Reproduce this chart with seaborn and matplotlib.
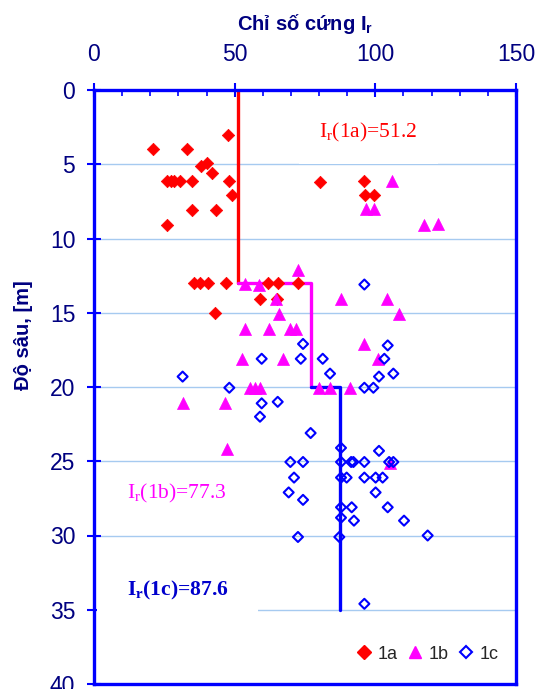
import numpy as np
import pandas as pd
import matplotlib
matplotlib.use("Agg")
import matplotlib.pyplot as plt
from matplotlib.lines import Line2D
import seaborn as sns

# Stiffness index I_r measured at depth, per soil layer
ir_1a = [47.5, 21, 33, 38, 40, 42, 26, 27.5, 28.5, 30.5, 35, 48, 49, 35, 43.5, 26,
         80.5, 96, 96.5, 99.5,
         35.5, 37.5, 40.5, 47, 62, 65.5, 72.5, 59, 65, 43]
depth_1a = [3.0, 4.0, 4.0, 5.1, 4.9, 5.6, 6.1, 6.1, 6.1, 6.1, 6.1, 6.1, 7.1, 8.1, 8.1, 9.1,
            6.2, 6.1, 7.1, 7.1,
            13.0, 13.0, 13.0, 13.0, 13.0, 13.0, 13.0, 14.1, 14.1, 15.05]

ir_1b = [105.8, 96.7, 99.5, 117.3, 122.4,
         72.4, 53.8, 58.8, 64.8, 65.9,
         53.8, 62.2, 69.5, 71.8,
         52.5, 67.3,
         55.5, 57.2, 59, 31.5, 46.6, 47.2,
         87.8, 104, 108.3, 96.1, 101.1,
         80.1, 83.9, 91, 105.2]
depth_1b = [6.1, 8.0, 8.0, 9.1, 9.0,
            12.1, 13.05, 13.1, 14.1, 15.1,
            16.1, 16.1, 16.1, 16.1,
            18.1, 18.1,
            20.05, 20.05, 20.05, 21.1, 21.1, 24.15,
            14.1, 14.1, 15.1, 17.1, 18.1,
            20.05, 20.05, 20.05, 25.1]

ir_1c = [96.1, 74.3, 104.4, 59.6, 73.5, 81.3, 103.2, 31.5, 83.9, 106.4, 101.3,
         48.1, 96.1, 99.3, 59.6, 65.3, 59, 77,
         87.8, 101.3,
         69.8, 74.3, 87.8, 91.4, 92.2, 96.1, 104.9, 106.4,
         71.1, 87.8, 89.8, 96.1, 100.1, 102.6,
         69.2, 100.1, 74.3,
         87.8, 91.6, 104.4, 87.8, 92.4, 110.2,
         72.5, 87.2, 118.6, 96.1]
depth_1c = [13.1, 17.1, 17.2, 18.1, 18.1, 18.1, 18.1, 19.3, 19.1, 19.1, 19.3,
            20.05, 20.05, 20.05, 21.1, 21.0, 22.0, 23.1,
            24.1, 24.3,
            25.05, 25.05, 25.05, 25.05, 25.05, 25.05, 25.05, 25.05,
            26.1, 26.1, 26.1, 26.1, 26.1, 26.1,
            27.1, 27.1, 27.6,
            28.1, 28.1, 28.1, 28.8, 29.0, 29.0,
            30.1, 30.1, 30.0, 34.6]

# Layer names, mean I_r and depth range of each layer
layers = ["1a", "1b", "1c"]
mean_ir = [51.2, 77.3, 87.6]
layer_top = [0, 13, 20]
layer_bottom = [13, 20, 35]

colors = ["#FF0000", "#FF00FF", "#0000FF"]
navy = "#000080"

sns.set_theme(style="white")
plt.rcParams["font.family"] = ["Liberation Sans", "DejaVu Sans"]
plt.rcParams["mathtext.default"] = "regular"

fig = plt.figure(figsize=(5.42, 6.89), dpi=100)
ax = fig.add_axes([94 / 542, 5 / 689, 422 / 542, 594 / 689])

# Step profile of mean I_r per layer
for i, name in enumerate(layers):
    prev = mean_ir[i - 1] if i > 0 else mean_ir[i]
    xs = [prev, mean_ir[i], mean_ir[i]]
    ys = [layer_top[i], layer_top[i], layer_bottom[i]]
    sns.lineplot(x=xs, y=ys, sort=False, estimator=None, color=colors[i],
                 linewidth=2.4, ax=ax, legend=False, zorder=2)

# Measured points
sns.scatterplot(x=ir_1a, y=depth_1a, marker="D", s=40, color=colors[0],
                edgecolor=colors[0], linewidth=0.5, ax=ax, zorder=4)
sns.scatterplot(x=ir_1b, y=depth_1b, marker="^", s=75, color=colors[1],
                edgecolor=colors[1], linewidth=0.5, ax=ax, zorder=5)
sns.scatterplot(x=ir_1c, y=depth_1c, marker="D", s=26, facecolors="none",
                edgecolor=colors[2], linewidth=1.5, ax=ax, zorder=6)

ax.set_xlim(0, 150)
ax.set_ylim(40, 0)
ax.xaxis.tick_top()
ax.xaxis.set_label_position("top")
ax.set_xticks([0, 50, 100, 150])
ax.set_xticks(np.arange(0, 151, 10), minor=True)
ax.set_yticks(np.arange(0, 41, 5))

ax.tick_params(axis="x", which="major", direction="inout", length=10, width=1.5,
               color="#0000FF", labelsize=16.5, labelcolor=navy, pad=12,
               top=True, bottom=False)
ax.tick_params(axis="x", which="minor", direction="in", length=4, width=1.2,
               color="#0000FF", top=True, bottom=False)
ax.tick_params(axis="y", which="major", direction="inout", length=10, width=1.5,
               color="#0000FF", labelsize=16.5, labelcolor=navy, pad=8.5, left=True)

for sp in ax.spines.values():
    sp.set_color("#0000FF")
    sp.set_linewidth(2.4)

ax.yaxis.grid(True, color="#A6CAF0", linewidth=1.0)
ax.xaxis.grid(False)

ax.set_xlabel("Chỉ số cứng I$_r$", fontsize=14.5, fontweight="bold", color=navy)
ax.set_ylabel("Độ sâu, [m]", fontsize=14.5, fontweight="bold", color=navy)
ax.xaxis.set_label_coords(0.5, 1.101)
ax.yaxis.set_label_coords(-0.145, 0.588)

# Layer mean labels
ax.text(97.4, 2.85, f"I$_r$(1a)={mean_ir[0]}", color="#FF0000", fontsize=15.5,
        family="Liberation Serif", ha="center", va="center", zorder=3,
        bbox=dict(boxstyle="square,pad=0.95", fc="white", ec="none"))
ax.text(29.5, 27.15, f"I$_r$(1b)={mean_ir[1]}", color="#FF00FF", fontsize=15.5,
        family="Liberation Serif", ha="center", va="center", zorder=3)
ax.text(29.7, 33.7, f"I$_r$(1c)={mean_ir[2]}", color="#0000CC", fontsize=15.5,
        family="Liberation Serif", fontweight="bold", ha="center", va="center",
        zorder=3, bbox=dict(boxstyle="square,pad=1.4", fc="white", ec="none"))

handles = [
    Line2D([], [], marker="D", linestyle="none", markersize=7, color=colors[0]),
    Line2D([], [], marker="^", linestyle="none", markersize=9, color=colors[1]),
    Line2D([], [], marker="D", linestyle="none", markersize=6, markerfacecolor="none",
           markeredgecolor=colors[2], markeredgewidth=1.5),
]
ax.legend(handles, layers, loc="center", bbox_to_anchor=(0.79, 0.05), ncol=3,
          frameon=False, fontsize=13, handlelength=0.9, handletextpad=0.3,
          columnspacing=0.5, borderaxespad=0)

fig.savefig("out.png", dpi=100)
